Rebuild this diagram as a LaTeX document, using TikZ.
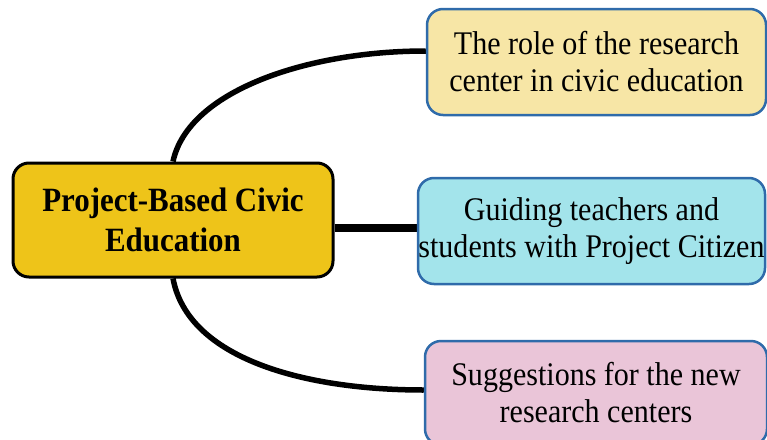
\documentclass[tikz,border=0pt]{standalone}
\usepackage{fontspec}
\setmainfont[FakeStretch=0.91]{Liberation Serif}
\usetikzlibrary{calc,backgrounds}
\definecolor{goldfill}{HTML}{EEC419}
\definecolor{topfill}{HTML}{F7E6A6}
\definecolor{midfill}{HTML}{A3E4EB}
\definecolor{botfill}{HTML}{EAC5D8}
\definecolor{leafborder}{HTML}{2F6BAA}
\begin{document}
\begin{tikzpicture}[x=1pt,y=-1pt,
  centralbox/.style={draw=black, line width=3pt, fill=goldfill, rounded corners=16pt,
    minimum width=320pt, minimum height=114pt, align=center, inner sep=0pt,
    font=\fontsize{34}{40}\selectfont\bfseries},
  leafbox/.style={draw=leafborder, line width=2.5pt, rounded corners=16pt,
    align=center, inner sep=0pt, font=\fontsize{33}{37}\selectfont},
  conn/.style={draw=black, line width=5.5pt}]
\clip (0,0) rectangle (767,439);
\node[centralbox] (c) at (173,220) {Project-Based Civic\\Education};
\node[leafbox, fill=topfill, minimum width=339pt, minimum height=106pt] (t) at (596.5,62) {The role of the research\\center in civic education};
\node[leafbox, fill=midfill, minimum width=347pt, minimum height=106pt] (m) at (591.5,231) {Guiding teachers and\\students with Project Citizen};
\node[leafbox, fill=botfill, minimum width=342pt, minimum height=104pt] (b) at (596,393) {Suggestions for the new\\research centers};
\begin{scope}[on background layer]
\draw[conn] (c.north) .. controls +(15,-70) and +(-120,0) .. ($(t.west)+(0,-11)$);
\draw[conn] (c.south) .. controls +(15,80) and +(-120,0) .. ($(b.west)+(0,-3)$);
\draw[conn, line width=8.5pt] (c.east) ++(0,8) coordinate (ms) -- (ms -| m.west);
\end{scope}
\end{tikzpicture}
\end{document}
